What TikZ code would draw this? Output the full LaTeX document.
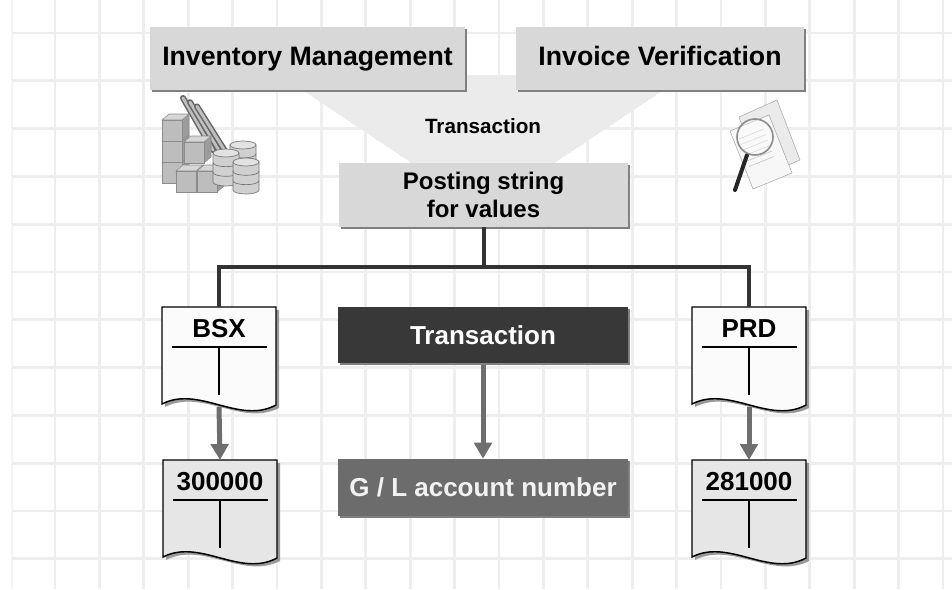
\documentclass[tikz,border=0pt]{standalone}
\usepackage{fontspec}
\setmainfont{Liberation Sans}
\usetikzlibrary{arrows.meta,shadows}

\definecolor{gridgray}{HTML}{EEEEEE}
\definecolor{boxgray}{HTML}{D8D8D8}
\definecolor{funnelgray}{HTML}{EBEBEB}
\definecolor{darkbox}{HTML}{383838}
\definecolor{glbox}{HTML}{6C6C6C}
\definecolor{arrowgray}{HTML}{6E6E6E}
\definecolor{treegray}{HTML}{333333}
\definecolor{sheetwhite}{HTML}{FBFBFB}
\definecolor{sheetgray}{HTML}{E6E6E6}
\definecolor{cubefront}{HTML}{BDBDBD}
\definecolor{cubetop}{HTML}{D6D6D6}
\definecolor{cubeside}{HTML}{9C9C9C}
\definecolor{cylbody}{HTML}{D0D0D0}
\definecolor{cyltop}{HTML}{E2E2E2}

\tikzset{
  gridline/.style={draw=gridgray, line width=2pt},
  boxshadow/.style={drop shadow={shadow xshift=1.5pt, shadow yshift=-1.5pt, fill=black!50, opacity=1}},
  headbox/.style={fill=boxgray, boxshadow, inner sep=0pt, text height=14.5pt, text depth=4pt,
    minimum height=47.25pt, font=\bfseries\fontsize{20}{24}\selectfont},
  postbox/.style={fill=boxgray, boxshadow, inner sep=0pt, align=center,
    minimum width=216.75pt, minimum height=48pt, font=\bfseries\fontsize{18}{21}\selectfont},
  darkstep/.style={fill=darkbox, boxshadow, inner sep=0pt, text=white,
    minimum width=217.5pt, minimum height=42pt, font=\bfseries\fontsize{19.5}{23}\selectfont},
  glstep/.style={fill=glbox, boxshadow, inner sep=0pt, text=white!95!black,
    minimum width=217.5pt, minimum height=42.75pt, font=\bfseries\fontsize{19.5}{23}\selectfont},
  smalllabel/.style={font=\bfseries\fontsize{15.5}{18}\selectfont, inner sep=0pt},
  treeline/.style={draw=treegray, line width=3pt},
  flowarrow/.style={draw=arrowgray, line width=3.75pt,
    -{Triangle[length=12pt, width=13pt]}, shorten <=1pt},
  sheetbody/.style={minimum width=85.5pt, minimum height=73.5pt, inner sep=0pt, anchor=north},
  sheetline/.style={draw=black, line width=1.1pt},
  sheetrule/.style={draw=black, line width=1.1pt},
  sheettitle/.style={font=\bfseries\fontsize{19.5}{23}\selectfont, inner sep=0pt},
  cubeline/.style={draw=black!45, line width=0.4pt},
  cylline/.style={draw=black!55, line width=0.5pt},
  paperline/.style={draw=black!35, line width=0.4pt},
}

% account sheet with wavy lower edge: name, centre x, top y, fill, title
\newcommand\acctsheet[5]{%
  \node[sheetbody] (#1) at (#2,#3) {};
  \begin{scope}[shift={(#2,#3)}]
    \fill[black!40] (-54,3) -- (60,3) -- (60,101)
      .. controls (23,120) and (-17,81) .. (-54,100) -- cycle;
    \filldraw[sheetline, fill=#4] (-57,0) -- (57,0) -- (57,98)
      .. controls (20,118) and (-20,78) .. (-57,97) -- cycle;
    \node[sheettitle] (#1-t) at (0,22) {#5};
    \draw[sheetrule] (-47,40) -- (48,40) (0,40) -- (0,88);
  \end{scope}
}

% small shaded cube: front face top-left corner
\newcommand\stockcube[2]{%
  \filldraw[cubeline, fill=cubeside] (#1+20,#2) -- ++(7,-6) -- ++(0,21) -- ++(-7,6) -- cycle;
  \filldraw[cubeline, fill=cubetop] (#1,#2) -- ++(7,-6) -- ++(20,0) -- ++(-7,6) -- cycle;
  \filldraw[cubeline, fill=cubefront] (#1,#2) rectangle ++(20,21);
}

% stack of disks: centre x, top y, bottom y
\newcommand\diskstack[3]{%
  \filldraw[cylline, fill=cylbody] (#1-13,#2) -- (#1-13,#3)
    arc[start angle=180, end angle=0, x radius=13, y radius=4] -- (#1+13,#2) -- cycle;
  \draw[cylline] (#1-13,{#2+(#3-#2)/3}) arc[start angle=180, end angle=0, x radius=13, y radius=4];
  \draw[cylline] (#1-13,{#2+2*(#3-#2)/3}) arc[start angle=180, end angle=0, x radius=13, y radius=4];
  \filldraw[cylline, fill=cyltop] (#1,#2) ellipse[x radius=13, y radius=4];
}

\begin{document}
\begin{tikzpicture}[x=0.75pt, y=-0.75pt]
  \useasboundingbox (0,0) rectangle (952,589);
  \fill[white] (0,0) rectangle (952,589);

  % background grid
  \draw[gridline, draw=gridgray!60] (12,0) -- (12,589);
  \foreach \k in {0,...,20}
    \draw[gridline] ({55+44.4*\k},0) -- ({55+44.4*\k},589);
  \foreach \k in {0,...,11}
    \draw[gridline] (12,{33+47.8*\k}) -- (952,{33+47.8*\k});

  % funnel joining the two sources
  \fill[funnelgray] (280,75) -- (686,75) -- (553,164) -- (413,164) -- cycle;

  % sources
  \node[headbox, minimum width=236.25pt] (inv) at (307.5,58.5) {Inventory Management};
  \node[headbox, minimum width=216pt] (ivf) at (660,58.5) {Invoice Verification};
  \node[smalllabel] (trx) at (483,126) {Transaction};

  % posting string
  \node[postbox] (post) at (483.5,195) {Posting string\\for values};

  % inventory icon: stacked stock, rods, disks
  \begin{scope}
    \foreach \d in {0,7,14}{
      \draw[black!60, line width=4.5pt, line cap=round] (183+\d,{98+\d*0.6}) -- (213+\d,{150+\d*0.3});
      \draw[black!25, line width=2.2pt, line cap=round] (183+\d,{98+\d*0.6}) -- (213+\d,{150+\d*0.3});
    }
    \stockcube{162}{162}
    \stockcube{162}{141}
    \stockcube{162}{120}
    \stockcube{184}{142}
    \diskstack{243}{145}{172}
    \stockcube{176}{171}
    \stockcube{197}{171}
    \diskstack{226}{153}{182}
    \diskstack{246}{162}{190}
  \end{scope}

  % invoice icon: papers under a magnifying glass
  \begin{scope}
    \filldraw[paperline, fill=black!8] (739,117) -- (777,100) -- (800,160) -- (761,177) -- cycle;
    \filldraw[paperline, fill=black!3] (730,131) -- (769,115) -- (792,173) -- (753,189) -- cycle;
    \foreach \t in {0.2,0.3,...,0.8}
      \draw[black!25, line width=0.4pt] ({735+\t*20},{128+\t*55}) -- ({760+\t*20},{118+\t*55});
    \draw[black!85, line width=3pt, line cap=round] (747,155) -- (735,190);
    \draw[black!45, line width=1.2pt, fill=white, fill opacity=0.35] (755,137) circle[radius=18];
  \end{scope}

  % account sheets
  \acctsheet{bsx}{219}{307}{sheetwhite}{BSX}
  \acctsheet{prd}{749}{307}{sheetwhite}{PRD}
  \acctsheet{gla}{220}{460}{sheetgray}{300000}
  \acctsheet{glb}{749}{460}{sheetgray}{281000}

  % key and result
  \node[darkstep] (key) at (483,335) {Transaction};
  \node[glstep] (gl) at (483,487.5) {G / L account number};

  % distribution lines
  \coordinate (fork) at (483.5,267);
  \draw[treeline] (post.south) -- (fork);
  \draw[treeline] (fork) -| (bsx.north);
  \draw[treeline] (fork) -| (prd.north);

  % arrows
  \draw[flowarrow] (bsx.south) -- (gla.north);
  \draw[flowarrow] (prd.south) -- (glb.north);
  \draw[flowarrow] (key.south) -- (gl.north);
\end{tikzpicture}
\end{document}
